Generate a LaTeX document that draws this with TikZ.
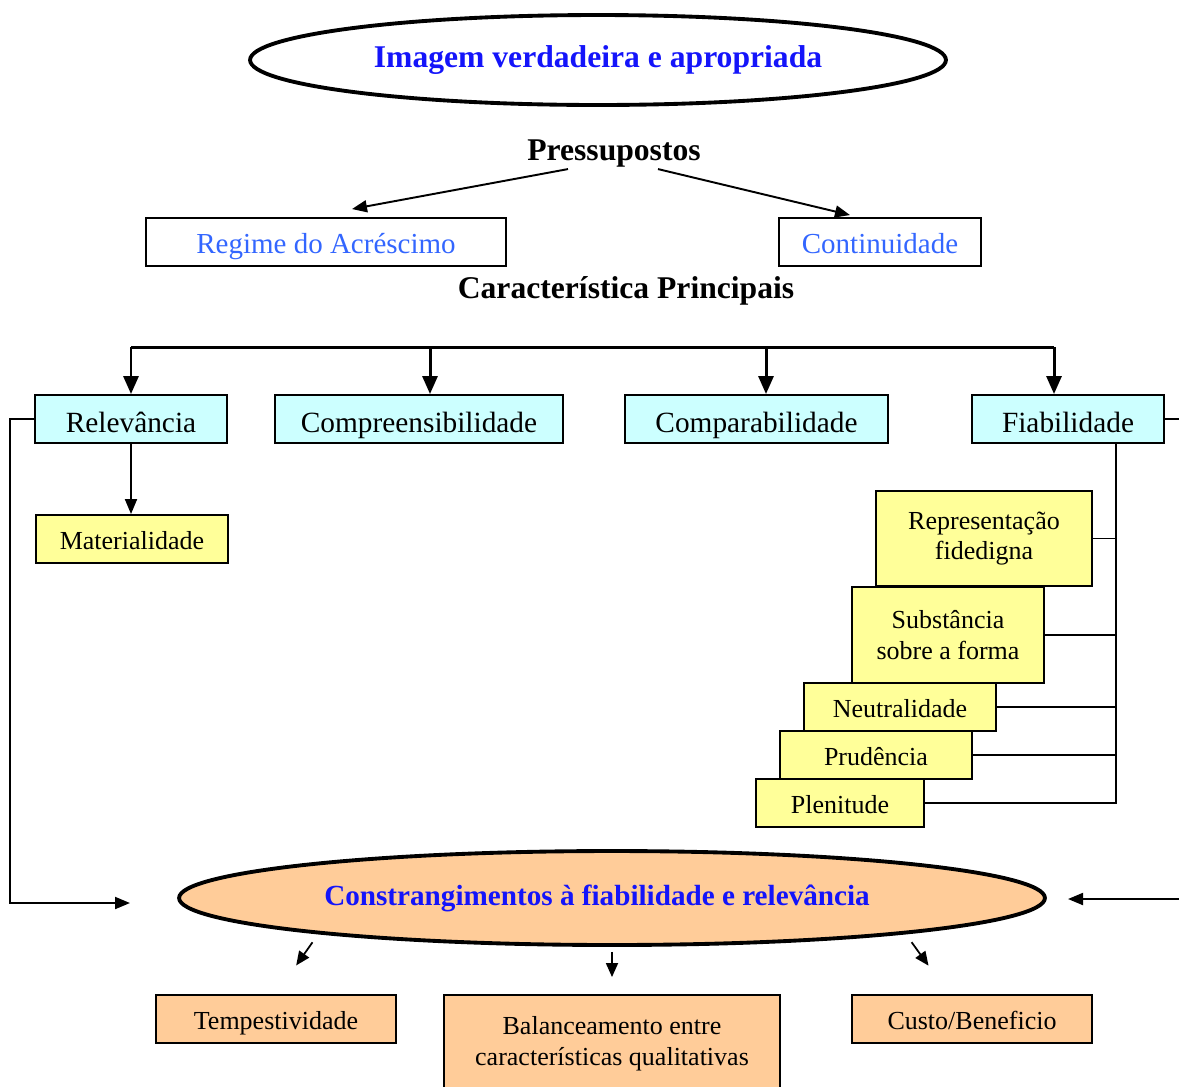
\documentclass[tikz,border=0pt]{standalone}
\usepackage{fontspec}
\setmainfont{Liberation Serif}
\usetikzlibrary{shapes.geometric,arrows.meta,calc}
\definecolor{titleblue}{RGB}{20,20,250}
\definecolor{lightblue}{RGB}{51,102,255}
\definecolor{cyanfill}{RGB}{204,255,255}
\definecolor{yellowfill}{RGB}{255,255,153}
\definecolor{peachfill}{RGB}{255,204,153}

\begin{document}
\begin{tikzpicture}[x=0.02cm,y=-0.02cm]
% styles
\tikzset{
  box/.style={draw,line width=1.1pt,inner sep=0pt},
  line1/.style={text height=#1,text depth=1pt},
  line2/.style={align=center},
  cbox/.style={box,line1=15.8pt,fill=cyanfill,minimum height=0.96cm,font=\fontsize{16.7}{20}\selectfont},
  wbox/.style={box,line1=14.6pt,minimum height=0.96cm,text=lightblue,font=\fontsize{16.5}{20}\selectfont},
  ybox/.style={box,fill=yellowfill,font=\fontsize{14.8}{17.6}\selectfont},
  obox/.style={box,fill=peachfill,font=\fontsize{14.8}{17.6}\selectfont},
  oval/.style={ellipse,draw,line width=2.2pt,inner sep=0pt,text=titleblue},
  head/.style={inner sep=0pt,font=\bfseries\fontsize{18}{21}\selectfont},
  bus/.style={line width=1.7pt,-{Triangle[length=0.36cm,width=0.3cm]}},
  arr/.style={line width=1.1pt,-{Triangle[length=0.3cm,width=0.24cm]}},
  stub/.style={line width=1pt,-{Triangle[length=0.28cm,width=0.24cm]}},
  link/.style={line width=1.1pt}
}
\useasboundingbox (0,0) rectangle (1179,1086);

% ----- top: image & assumptions -----
\node[oval,minimum width=13.92cm,minimum height=1.8cm,font=\bfseries\fontsize{18}{21}\selectfont] (image) at (598,60) {Imagem verdadeira e apropriada};
\node[head] (press) at (614,154) {Pressupostos};
\node[wbox,minimum width=7.2cm] (regime) at (326,242) {Regime do Acréscimo};
\node[wbox,minimum width=4.04cm] (cont) at (880,242) {Continuidade};
\draw[arr] ($(press.south)+(-46,1)$) -- ($(regime.north)+(26,-8)$);
\draw[arr] ($(press.south)+(44,1)$) -- ($(cont.north)+(-30,-2)$);

% ----- main characteristics -----
\node[head] (carac) at (626,291) {Característica Principais};
\node[cbox,minimum width=3.84cm] (rel) at (131,419) {Relevância};
\node[cbox,minimum width=5.76cm] (compr) at (419,419) {Compreensibilidade};
\node[cbox,minimum width=5.26cm] (compa) at (756.5,419) {Comparabilidade};
\node[cbox,minimum width=3.84cm] (fiab) at (1068,419) {Fiabilidade};

\coordinate (bus1) at (131,347);
\coordinate (bus2) at (430,347);
\coordinate (bus3) at (766,347);
\coordinate (bus4) at (1054,347);
\draw[line width=1.7pt] (bus1) -- (bus4);
\draw[bus] (bus1) -- (bus1 |- rel.north);
\draw[bus] (bus2) -- (bus2 |- compr.north);
\draw[bus] (bus3) -- (bus3 |- compa.north);
\draw[bus] (bus4) -- (bus4 |- fiab.north);

% relevance -> materiality
\node[ybox,line1=12.4pt,minimum width=3.84cm,minimum height=0.96cm] (mat) at (132,539) {Materialidade};
\draw[arr] (rel.south) -- (rel.south |- mat.north);

% ----- reliability staircase -----
\node[ybox,line2,minimum width=4.32cm,minimum height=1.9cm] (repr) at (984,538.5) {Representação\\fidedigna};
\node[ybox,line2,minimum width=3.84cm,minimum height=1.92cm] (subs) at (948,635) {Substância\\sobre a forma};
\node[ybox,line1=12.4pt,minimum width=3.84cm,minimum height=0.96cm] (neut) at (900,707) {Neutralidade};
\node[ybox,line1=12.4pt,minimum width=3.84cm,minimum height=0.96cm] (prud) at (876,755) {Prudência};
\node[ybox,line1=12.4pt,minimum width=3.36cm,minimum height=0.96cm] (plen) at (840,803) {Plenitude};

\coordinate (trunk) at (1116,443);
\draw[link] (fiab.south -| trunk) |- (plen.east);
\draw[link] (repr.east) -- (repr.east -| trunk);
\draw[link] (subs.east) -- (subs.east -| trunk);
\draw[link] (neut.east) -- (neut.east -| trunk);
\draw[link] (prud.east) -- (prud.east -| trunk);

% ----- constraints -----
\node[oval,fill=peachfill,minimum width=17.32cm,minimum height=1.88cm,font=\bfseries\fontsize{16.6}{20}\selectfont] (cons) at (612,898) {Constrangimentos à fiabilidade e relevância\hspace*{0.6cm}};
\coordinate (consL) at (130,903);
\coordinate (consR) at (1068,899);
\draw[arr] (rel.west) -- ++(-24,0) |- (consL);
\draw[arr] (fiab.east) -- ++(30,0) |- (consR);

\node[obox,line1=12.4pt,minimum width=4.8cm,minimum height=0.96cm] (tempo) at (276,1019) {Tempestividade};
\node[obox,line2,minimum width=6.72cm,minimum height=1.94cm] (bal) at (612,1043.5) {Balanceamento entre\\características qualitativas};
\node[obox,line1=12.4pt,minimum width=4.8cm,minimum height=0.96cm] (custo) at (972,1019) {Custo/Beneficio};

\draw[stub,shorten <=0.2cm,shorten >=0.7cm] (cons.187) -- (tempo.north);
\draw[stub,shorten <=0.1cm,shorten >=0.34cm] (cons.south) -- (bal.north);
\draw[stub,shorten <=0.2cm,shorten >=0.7cm] (cons.353) -- ($(custo.north)+(-23,0)$);
\end{tikzpicture}
\end{document}
